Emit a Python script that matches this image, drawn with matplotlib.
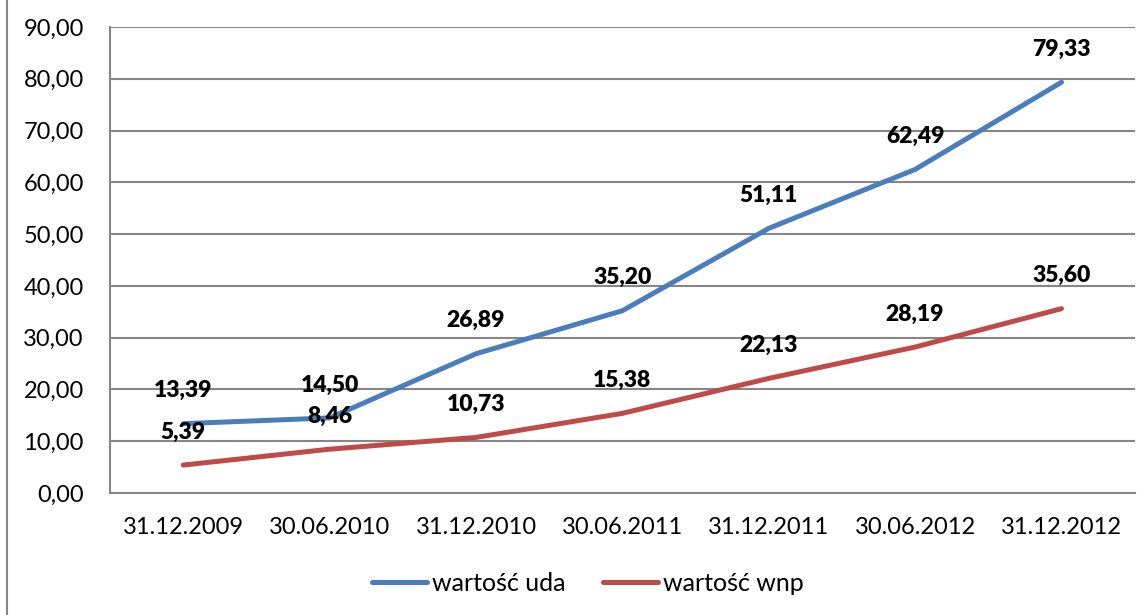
import matplotlib.pyplot as plt
from matplotlib.lines import Line2D
from matplotlib.ticker import FuncFormatter

# dane
daty = ["31.12.2009", "30.06.2010", "31.12.2010", "30.06.2011",
        "31.12.2011", "30.06.2012", "31.12.2012"]
wartosc_uda = [13.39, 14.50, 26.89, 35.20, 51.11, 62.49, 79.33]
wartosc_wnp = [5.39, 8.46, 10.73, 15.38, 22.13, 28.19, 35.60]

kolory = {'uda': '#4A7EBB', 'wnp': '#BE4B48'}
szary = '#868686'

plt.rcParams['font.family'] = ['Lato', 'DejaVu Sans']

fig = plt.figure(figsize=(11.45, 6.15), dpi=100)
ax = fig.add_axes([0.0961, 0.1984, 0.8949, 0.7577])

x = range(len(daty))
ax.plot(x, wartosc_uda, color=kolory['uda'], lw=3.6, solid_capstyle='round',
        label='wartość uda', zorder=3)
ax.plot(x, wartosc_wnp, color=kolory['wnp'], lw=3.6, solid_capstyle='round',
        label='wartość wnp', zorder=3)

# etykiety wartości
for seria in (wartosc_uda, wartosc_wnp):
    for i, v in enumerate(seria):
        ax.annotate(f'{v:.2f}'.replace('.', ','), (i, v), xytext=(0, 19),
                    textcoords='offset points', ha='center', va='baseline',
                    fontsize=16.5, fontweight='heavy', zorder=4)

ax.set_xlim(-0.5, len(daty) - 0.5)
ax.set_ylim(0, 90)
ax.set_yticks(range(0, 91, 10))
ax.yaxis.set_major_formatter(FuncFormatter(lambda v, p: f'{v:.2f}'.replace('.', ',')))
ax.set_xticks(list(x))
ax.set_xticklabels(daty)
ax.tick_params(axis='both', length=0, labelsize=17)
ax.tick_params(axis='y', pad=19)
ax.tick_params(axis='x', pad=17)

ax.grid(axis='y', color=szary, lw=1.5)
ax.set_axisbelow(True)
for s in ('top', 'right'):
    ax.spines[s].set_visible(False)
for s in ('left', 'bottom'):
    ax.spines[s].set_color(szary)
    ax.spines[s].set_linewidth(1.5)

fig.legend(loc='center', bbox_to_anchor=(0.513, 0.052), ncol=2, frameon=False,
           fontsize=18, handlelength=2.2, handletextpad=0.2, columnspacing=1.5)

# ramka wykresu po lewej
fig.add_artist(Line2D([0.0065, 0.0065], [0, 1], transform=fig.transFigure,
                      color=szary, lw=1.5))

fig.savefig('out.png', dpi=100)
